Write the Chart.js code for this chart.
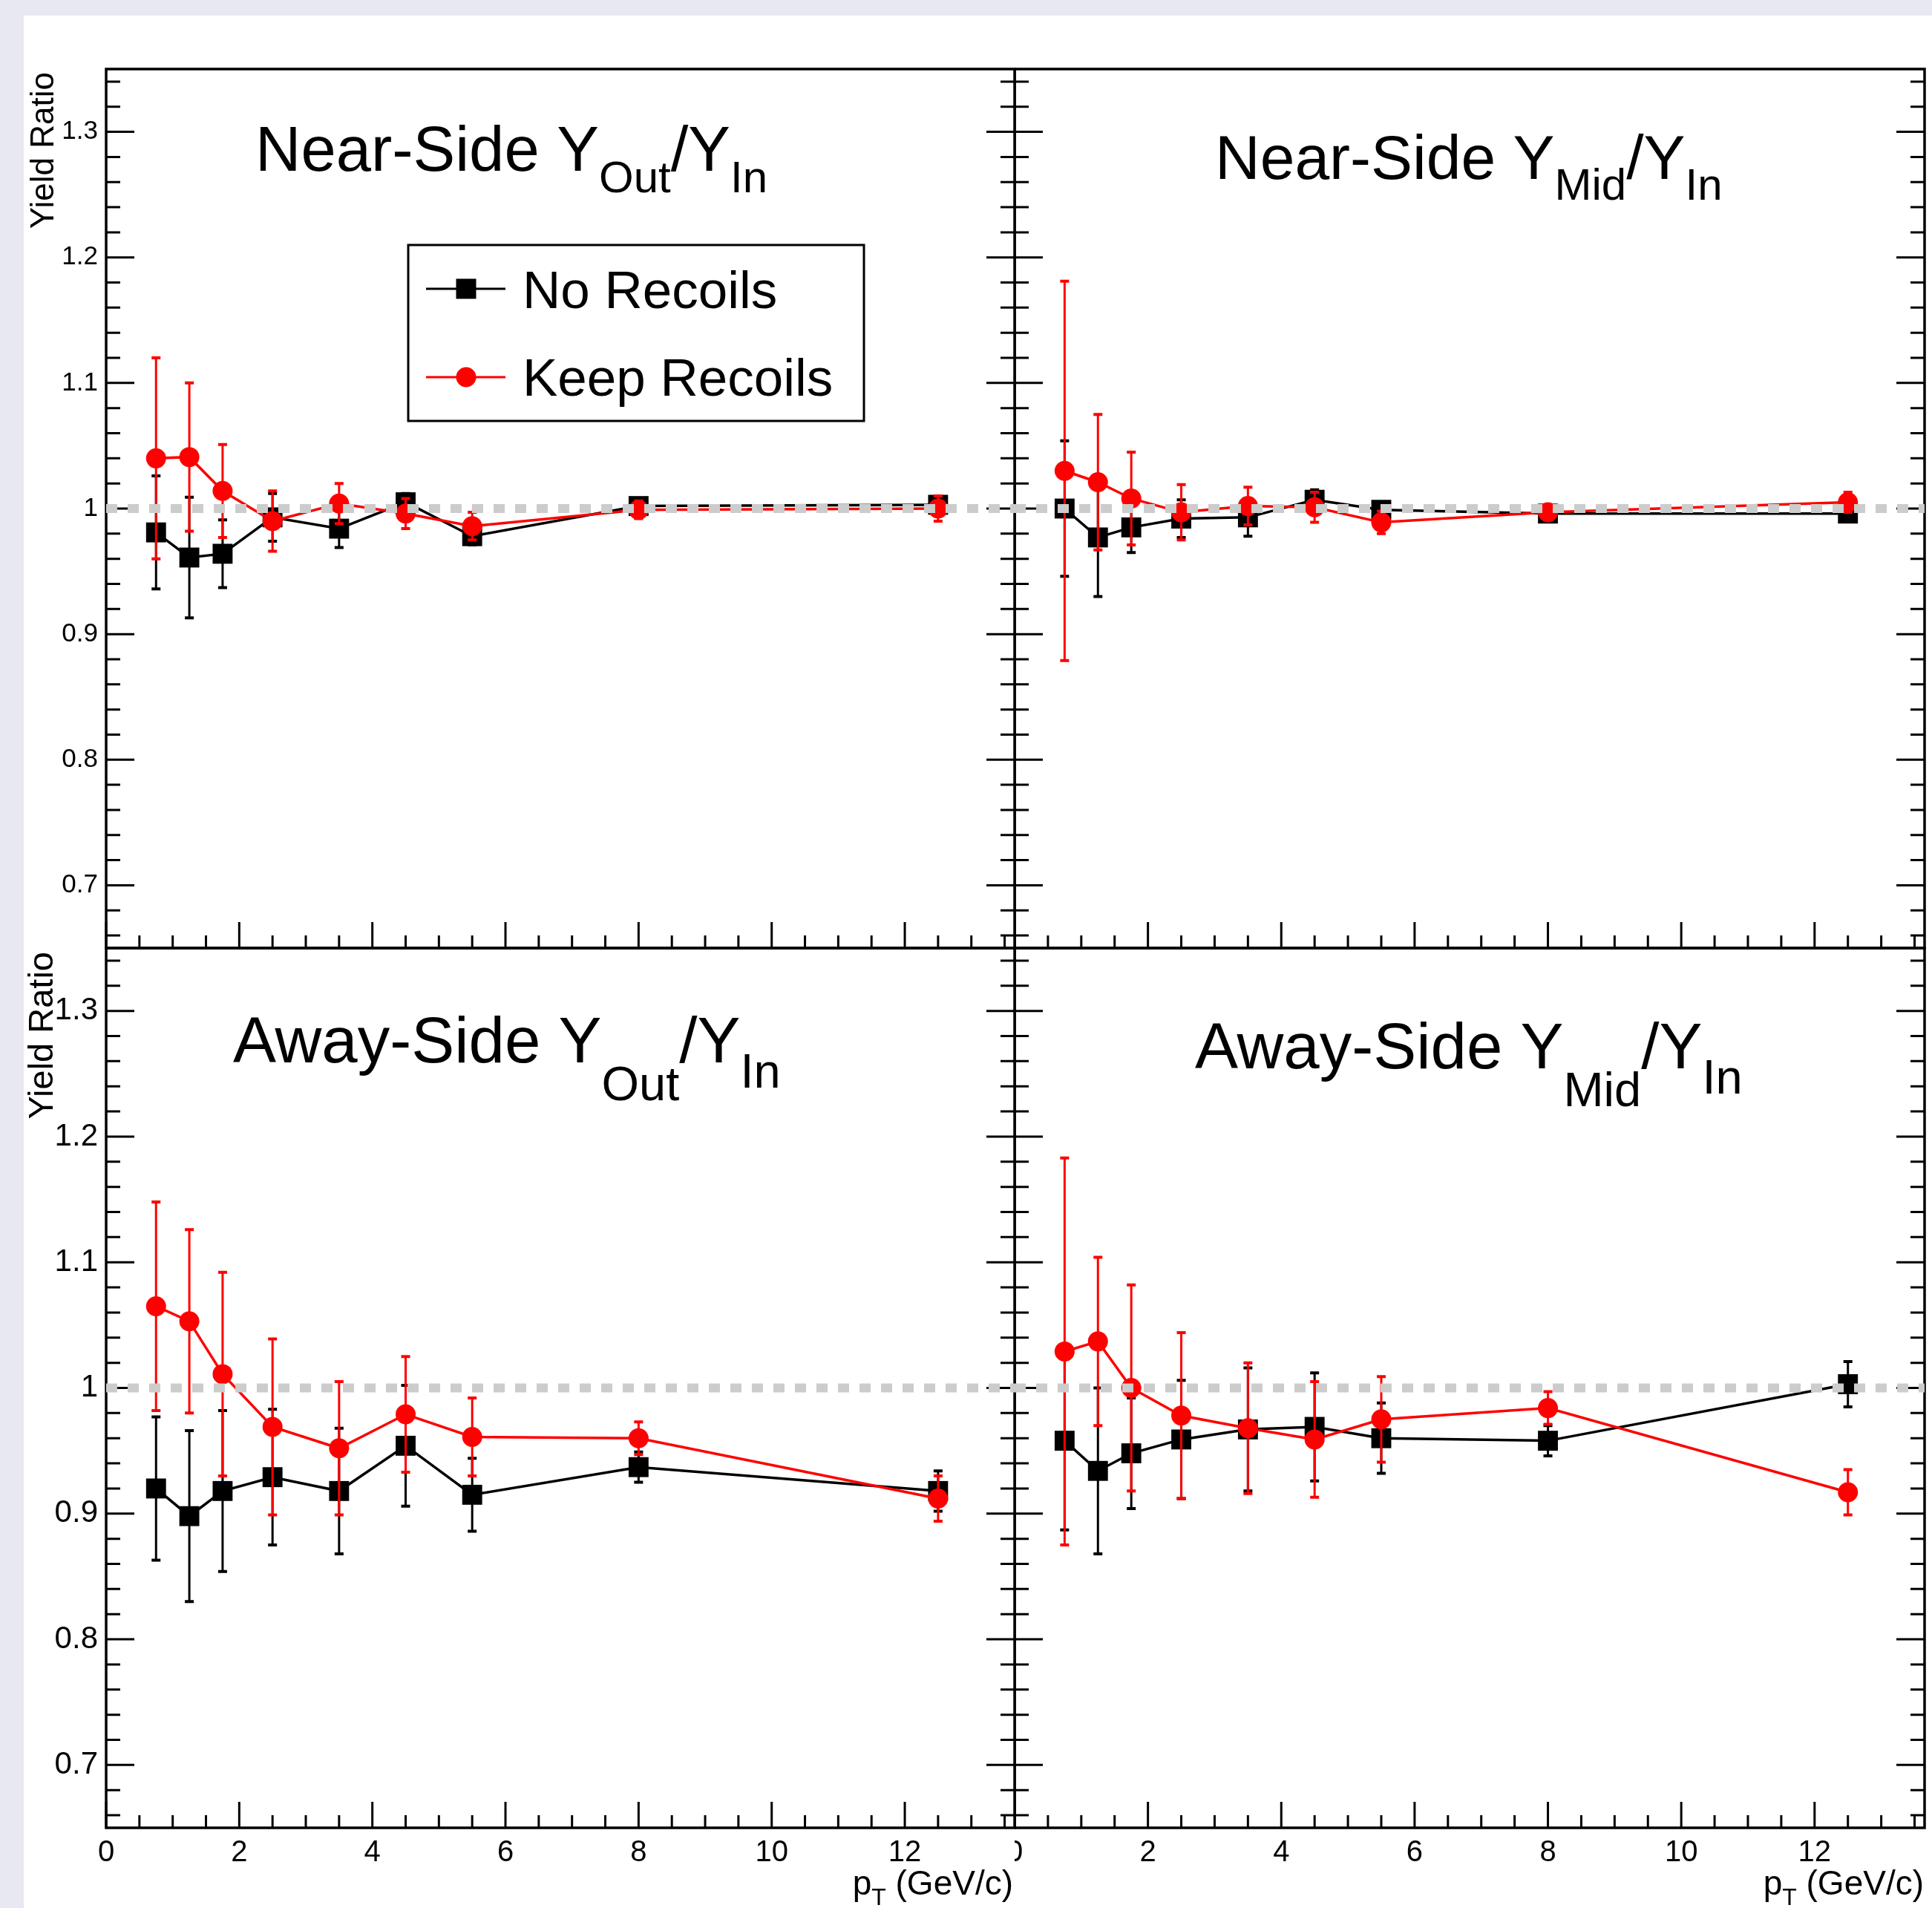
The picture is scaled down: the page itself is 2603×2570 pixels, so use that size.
<!DOCTYPE html>
<html>
<head>
<meta charset="utf-8">
<script src="https://cdn.jsdelivr.net/npm/chart.js@4.4.0/dist/chart.umd.min.js"></script>
<style>
  html, body { margin: 0; padding: 0; background: #e8e8f2; }
  #page { position: relative; width: 2603px; height: 2570px; overflow: hidden; }
  #sheet { position: absolute; left: 32px; top: 21px; right: 0; bottom: 0; background: #fff; }
  canvas { position: absolute; }
</style>
</head>
<body>
<div id="page">
  <div id="sheet"></div>
  <canvas id="nearOut"></canvas>
  <canvas id="nearMid"></canvas>
  <canvas id="awayOut"></canvas>
  <canvas id="awayMid"></canvas>
</div>
<script>
// pT bin centres (GeV/c)
const ptBins = [0.75, 1.25, 1.75, 2.5, 3.5, 4.5, 5.5, 8, 12.5];

// Near-side Y_Out/Y_In
const nearOutNoRec     = [0.981, 0.961, 0.964, 0.993, 0.984, 1.005, 0.978, 1.002, 1.003];
const nearOutNoRecErr  = [0.045, 0.048, 0.027, 0.019, 0.015, 0.007, 0.007, 0.006, 0.006];
const nearOutKeep      = [1.040, 1.041, 1.014, 0.990, 1.004, 0.996, 0.986, 0.999, 1.000];
const nearOutKeepErr   = [0.080, 0.059, 0.037, 0.024, 0.016, 0.012, 0.011, 0.007, 0.010];

// Near-side Y_Mid/Y_In
const nearMidNoRec     = [1.000, 0.977, 0.985, 0.992, 0.993, 1.007, 0.999, 0.996, 0.996];
const nearMidNoRecErr  = [0.054, 0.047, 0.020, 0.015, 0.015, 0.008, 0.005, 0.004, 0.004];
const nearMidKeep      = [1.030, 1.021, 1.008, 0.997, 1.002, 1.001, 0.989, 0.997, 1.005];
const nearMidKeepErr   = [0.151, 0.054, 0.037, 0.022, 0.015, 0.012, 0.009, 0.005, 0.008];

// Away-side Y_Out/Y_In
const awayOutNoRec     = [0.920, 0.898, 0.918, 0.929, 0.918, 0.954, 0.915, 0.937, 0.918];
const awayOutNoRecErr  = [0.057, 0.068, 0.064, 0.054, 0.050, 0.048, 0.029, 0.012, 0.016];
const awayOutKeep      = [1.065, 1.053, 1.011, 0.969, 0.952, 0.979, 0.961, 0.960, 0.912];
const awayOutKeepErr   = [0.083, 0.073, 0.081, 0.070, 0.053, 0.046, 0.031, 0.013, 0.018];

// Away-side Y_Mid/Y_In
const awayMidNoRec     = [0.958, 0.934, 0.948, 0.959, 0.967, 0.969, 0.960, 0.958, 1.003];
const awayMidNoRecErr  = [0.071, 0.066, 0.044, 0.047, 0.049, 0.043, 0.028, 0.012, 0.018];
const awayMidKeep      = [1.029, 1.037, 1.000, 0.978, 0.968, 0.959, 0.975, 0.984, 0.917];
const awayMidKeepErr   = [0.154, 0.067, 0.082, 0.066, 0.052, 0.046, 0.034, 0.013, 0.018];

// reference line y = 1
const refLevel = 1.0;

// axes
const xMajor = [0, 2, 4, 6, 8, 10, 12];
const xTickLabels = ['0', '2', '4', '6', '8', '10', '12'];
const yMajor = [0.7, 0.8, 0.9, 1.0, 1.1, 1.2, 1.3];
const yTickLabels = ['0.7', '0.8', '0.9', '1', '1.1', '1.2', '1.3'];
const X_MIN = 0, X_MAX = 13.65;
const Y_MIN = 0.65, Y_MAX = 1.35;

const FONT = '"Liberation Sans", Arial, Helvetica, sans-serif';

function toPts(vals) {
  return ptBins.map((x, i) => ({ x: x, y: vals[i] }));
}

function richText(ctx, x, y, parts, alignRight) {
  let total = 0;
  parts.forEach(p => {
    ctx.font = p.size + 'px ' + FONT;
    total += ctx.measureText(p.t).width;
  });
  let cx = alignRight ? x - total : x;
  ctx.textAlign = 'left';
  ctx.textBaseline = 'alphabetic';
  parts.forEach(p => {
    ctx.font = p.size + 'px ' + FONT;
    ctx.fillText(p.t, cx, y + (p.dy || 0));
    cx += ctx.measureText(p.t).width;
  });
}

// frame + inward ticks, drawn under the data
const frameTicks = {
  id: 'frameTicks',
  beforeDatasetsDraw(chart) {
    const { ctx, chartArea: a, scales: { x, y } } = chart;
    ctx.save();
    ctx.strokeStyle = '#000';
    ctx.lineWidth = 3;
    ctx.beginPath();
    for (let k = 33; k <= 67; k++) {
      const py = y.getPixelForValue(k / 50);
      const len = k % 5 === 0 ? 38 : 19;
      ctx.moveTo(a.left, py); ctx.lineTo(a.left + len, py);
      ctx.moveTo(a.right, py); ctx.lineTo(a.right - len, py);
    }
    for (let k = 0; k <= 27; k++) {
      const px = x.getPixelForValue(k / 2);
      const len = k % 4 === 0 ? 35 : 17;
      ctx.moveTo(px, a.bottom); ctx.lineTo(px, a.bottom - len);
    }
    ctx.stroke();
    ctx.lineWidth = 3.5;
    ctx.strokeRect(a.left, a.top, a.right - a.left, a.bottom - a.top);
    ctx.restore();
  }
};

// vertical error bars with end caps, drawn just before their own series
const errorBars = {
  id: 'errorBars',
  beforeDatasetDraw(chart, args) {
    const ds = chart.data.datasets[args.index];
    if (!ds.errors) return;
    const { ctx, scales: { x, y } } = chart;
    ctx.save();
    ctx.strokeStyle = ds.borderColor;
    ds.data.forEach((p, i) => {
      const px = x.getPixelForValue(p.x);
      const hi = y.getPixelForValue(p.y + ds.errors[i]);
      const lo = y.getPixelForValue(p.y - ds.errors[i]);
      ctx.lineWidth = 3;
      ctx.beginPath();
      ctx.moveTo(px, hi); ctx.lineTo(px, lo);
      ctx.stroke();
      ctx.lineWidth = 4;
      ctx.beginPath();
      ctx.moveTo(px - 6, hi); ctx.lineTo(px + 6, hi);
      ctx.moveTo(px - 6, lo); ctx.lineTo(px + 6, lo);
      ctx.stroke();
    });
    ctx.restore();
  }
};

function makeChart(id, cfg) {
  const el = document.getElementById(id);
  el.width = cfg.w;
  el.height = cfg.h;
  el.style.left = cfg.left + 'px';
  el.style.top = cfg.top + 'px';
  el.style.width = cfg.w + 'px';
  el.style.height = cfg.h + 'px';

  const decorations = {
    id: 'decorations',
    afterDraw(chart) {
      const ctx = chart.ctx;
      ctx.save();
      ctx.translate(-cfg.left, -cfg.top);   // work in page coordinates
      ctx.fillStyle = '#000';
      richText(ctx, cfg.title.x, cfg.title.y, cfg.title.parts, false);
      if (cfg.yTitle) {
        ctx.save();
        ctx.translate(cfg.yTitle.x, cfg.yTitle.y);
        ctx.rotate(-Math.PI / 2);
        ctx.font = cfg.yTitle.size + 'px ' + FONT;
        ctx.textAlign = 'right';
        ctx.textBaseline = 'alphabetic';
        ctx.fillText('Yield Ratio', 0, 0);
        ctx.restore();
      }
      if (cfg.xTitle) {
        richText(ctx, cfg.xTitle.x, 2552, [
          { t: 'p', size: 46 },
          { t: 'T', size: 32, dy: 14 },
          { t: ' (GeV/c)', size: 46 }
        ], true);
      }
      if (cfg.legend) {
        ctx.strokeStyle = '#000';
        ctx.lineWidth = 3;
        ctx.strokeRect(550, 330, 614, 237);
        const rows = [
          { y: 389, base: 415, color: '#000', text: 'No Recoils', square: true },
          { y: 508, base: 533, color: '#f00', text: 'Keep Recoils', square: false }
        ];
        rows.forEach(r => {
          ctx.strokeStyle = r.color;
          ctx.fillStyle = r.color;
          ctx.lineWidth = 3;
          ctx.beginPath();
          ctx.moveTo(574, r.y); ctx.lineTo(681, r.y);
          ctx.stroke();
          if (r.square) {
            ctx.fillRect(628 - 13.5, r.y - 13.5, 27, 27);
          } else {
            ctx.beginPath();
            ctx.arc(628, r.y, 13.5, 0, Math.PI * 2);
            ctx.fill();
          }
          ctx.fillStyle = '#000';
          ctx.font = '71px ' + FONT;
          ctx.textAlign = 'left';
          ctx.textBaseline = 'alphabetic';
          ctx.fillText(r.text, 704, r.base);
        });
      }
      ctx.restore();
    }
  };

  return new Chart(el, {
    type: 'line',
    data: {
      datasets: [
        {
          label: 'No Recoils',
          data: toPts(cfg.noRec),
          errors: cfg.noRecErr,
          borderColor: '#000000',
          backgroundColor: '#000000',
          borderWidth: 3.5,
          pointStyle: 'rect',
          pointRadius: 19,
          pointBorderWidth: 0,
          tension: 0,
          order: 2
        },
        {
          label: 'Keep Recoils',
          data: toPts(cfg.keep),
          errors: cfg.keepErr,
          borderColor: '#ff0000',
          backgroundColor: '#ff0000',
          borderWidth: 3.5,
          pointStyle: 'circle',
          pointRadius: 13.5,
          pointBorderWidth: 0,
          tension: 0,
          order: 1
        },
        {
          label: 'ref',
          data: [{ x: X_MIN, y: refLevel }, { x: X_MAX, y: refLevel }],
          borderColor: '#cccccc',
          borderWidth: 12,
          borderDash: [15, 14],
          pointRadius: 0,
          order: 0
        }
      ]
    },
    options: {
      responsive: false,
      animation: false,
      devicePixelRatio: 1,
      layout: {
        autoPadding: false,
        padding: { left: 0, top: cfg.padT, right: 6, bottom: cfg.padB }
      },
      plugins: { legend: { display: false }, tooltip: { enabled: false } },
      scales: {
        x: {
          type: 'linear',
          min: X_MIN,
          max: X_MAX,
          grid: { display: false, drawTicks: false },
          border: { display: false },
          afterBuildTicks: s => { s.ticks = xMajor.map(v => ({ value: v })); },
          afterFit: s => {
            s.height = cfg.xAxisH;
            s.paddingLeft = 0; s.paddingRight = 0;
          },
          ticks: {
            display: cfg.xLabels,
            autoSkip: false,
            maxRotation: 0,
            padding: 10,
            color: '#000',
            font: { family: FONT, size: 40 },
            callback: (v, i) => xTickLabels[i]
          }
        },
        y: {
          min: Y_MIN,
          max: Y_MAX,
          grid: { display: false, drawTicks: false },
          border: { display: false },
          afterBuildTicks: s => { s.ticks = yMajor.map(v => ({ value: v })); },
          afterFit: s => {
            s.width = cfg.yAxisW;
            s.paddingTop = 0; s.paddingBottom = 0;
          },
          ticks: {
            display: cfg.yLabels,
            padding: 11,
            color: '#000',
            font: { family: FONT, size: cfg.yFont },
            callback: (v, i) => yTickLabels[i]
          }
        }
      }
    },
    plugins: [frameTicks, errorBars, decorations]
  });
}

makeChart('nearOut', {
  left: 32, top: 21, w: 1341, h: 1262, padT: 72, padB: 6, yAxisW: 111, xAxisH: 0,
  xLabels: false, yLabels: true, yFont: 35,
  noRec: nearOutNoRec, noRecErr: nearOutNoRecErr, keep: nearOutKeep, keepErr: nearOutKeepErr,
  title: { x: 344, y: 230, parts: [
    { t: 'Near-Side Y', size: 85 }, { t: 'Out', size: 60, dy: 29 },
    { t: '/Y', size: 85 }, { t: 'In', size: 60, dy: 29 }] },
  yTitle: { x: 72, y: 97, size: 44 },
  legend: true
});

makeChart('nearMid', {
  left: 1367, top: 21, w: 1232, h: 1262, padT: 72, padB: 6, yAxisW: 0, xAxisH: 0,
  xLabels: false, yLabels: false, yFont: 35,
  noRec: nearMidNoRec, noRecErr: nearMidNoRecErr, keep: nearMidKeep, keepErr: nearMidKeepErr,
  title: { x: 1637, y: 241, parts: [
    { t: 'Near-Side Y', size: 84 }, { t: 'Mid', size: 60, dy: 28 },
    { t: '/Y', size: 84 }, { t: 'In', size: 60, dy: 28 }] }
});

makeChart('awayOut', {
  left: 32, top: 1271, w: 1341, h: 1299, padT: 6, padB: 0, yAxisW: 111, xAxisH: 108,
  xLabels: true, yLabels: true, yFont: 42,
  noRec: awayOutNoRec, noRecErr: awayOutNoRecErr, keep: awayOutKeep, keepErr: awayOutKeepErr,
  title: { x: 314, y: 1431, parts: [
    { t: 'Away-Side Y', size: 87 }, { t: 'Out', size: 65, dy: 51 },
    { t: '/Y', size: 87 }, { t: 'In', size: 65, dy: 34 }] },
  yTitle: { x: 71, y: 1282, size: 47 },
  xTitle: { x: 1365 }
});

makeChart('awayMid', {
  left: 1367, top: 1271, w: 1232, h: 1299, padT: 6, padB: 0, yAxisW: 0, xAxisH: 108,
  xLabels: true, yLabels: false, yFont: 42,
  noRec: awayMidNoRec, noRecErr: awayMidNoRecErr, keep: awayMidKeep, keepErr: awayMidKeepErr,
  title: { x: 1610, y: 1439, parts: [
    { t: 'Away-Side Y', size: 87 }, { t: 'Mid', size: 65, dy: 51 },
    { t: '/Y', size: 87 }, { t: 'In', size: 65, dy: 34 }] },
  xTitle: { x: 2592 }
});
</script>
</body>
</html>
